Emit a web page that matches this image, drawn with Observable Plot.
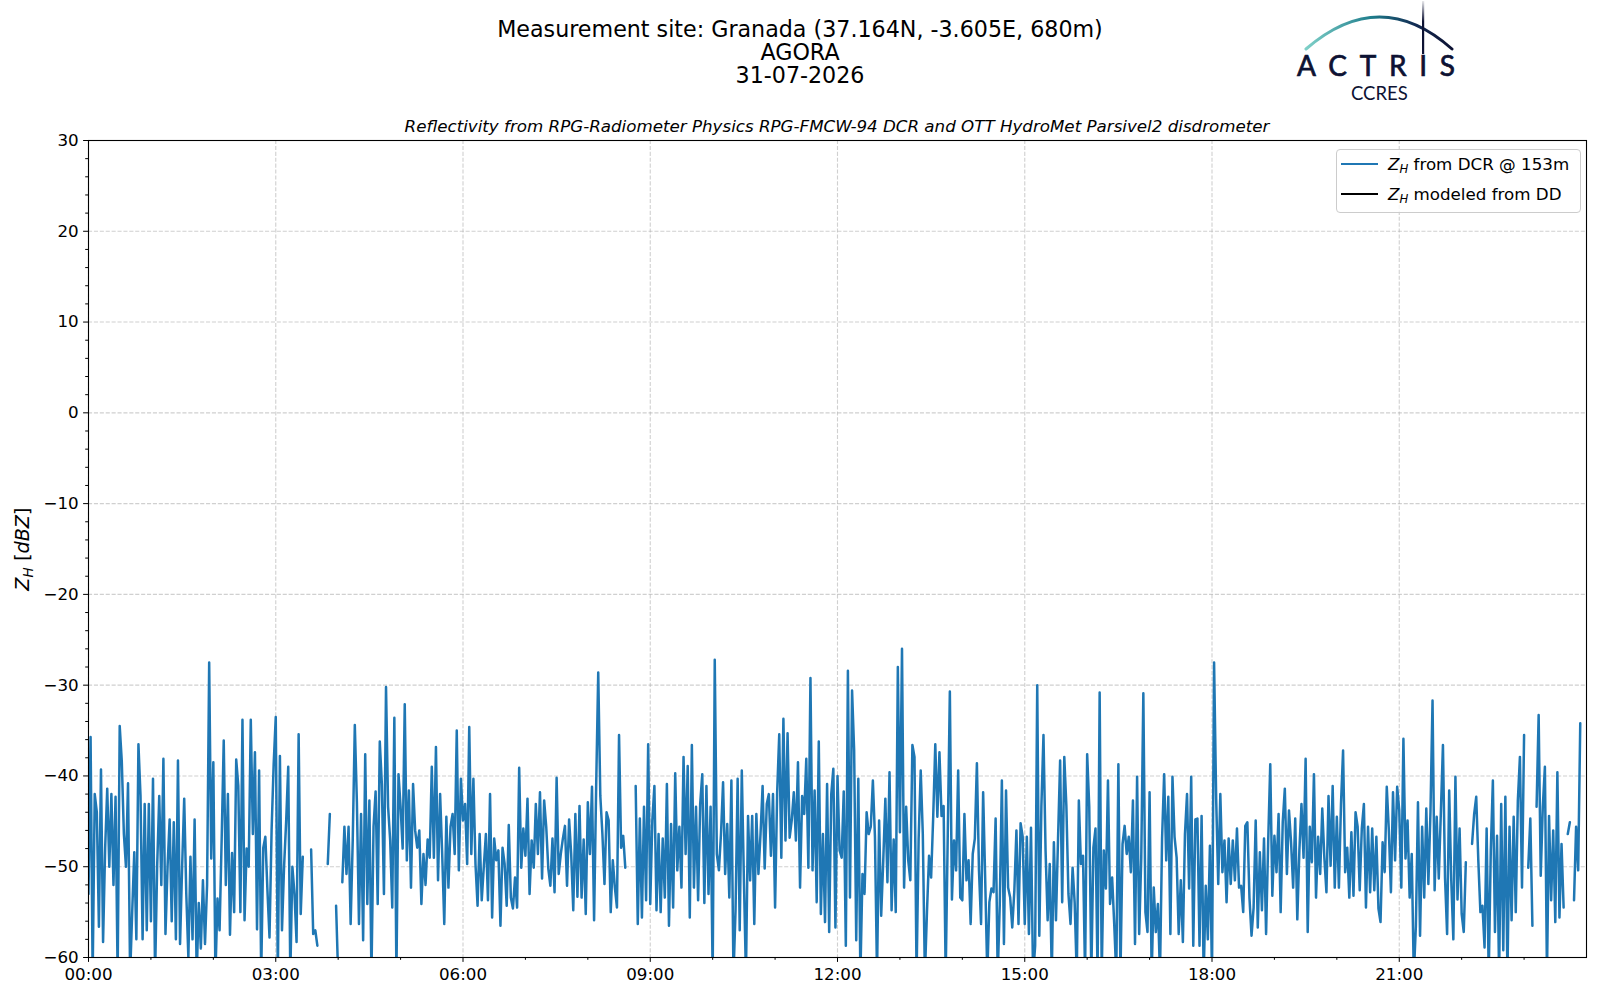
<!DOCTYPE html>
<html>
<head>
<meta charset="utf-8">
<script src="https://cdn.jsdelivr.net/npm/d3@7"></script>
<script src="https://cdn.jsdelivr.net/npm/@observablehq/plot@0.6"></script>
<style>
html,body{margin:0;padding:0;background:#fff;}
#fig{position:relative;width:1600px;height:1000px;background:#fff;font-family:"DejaVu Sans",sans-serif;color:#000;overflow:hidden;}
.abs{position:absolute;white-space:nowrap;line-height:1;}
.ctr{transform:translate(-50%,-50%);}
.sub{font-size:70%;position:relative;top:0.28em;font-style:italic;}
</style>
</head>
<body>
<div id="fig">
  <div id="chart" style="position:absolute;left:0;top:120px;"></div>
</div>
<script>
// ---------------- data ----------------
const titleLines = ["Measurement site: Granada (37.164N, -3.605E, 680m)", "AGORA", "31-07-2026"];
const subtitle = "Reflectivity from RPG-Radiometer Physics RPG-FMCW-94 DCR and OTT HydroMet Parsivel2 disdrometer";
const yLabelParts = {sym: "Z", sub: "H", unit: "dBZ"};
const legendLabels = [" from DCR @ 153m", " modeled from DD"];
const legendColors = ["#1f77b4", "#000000"];
const logoText = ["ACTRIS", "CCRES"];

const dayStart = "2026-07-31T00:00:00Z";
const stepMinutes = 2;
const yMajor = [-60, -50, -40, -30, -20, -10, 0, 10, 20, 30];
const yMinor = [-58,-56,-54,-52,-48,-46,-44,-42,-38,-36,-34,-32,-28,-26,-24,-22,-18,-16,-14,-12,-8,-6,-4,-2,2,4,6,8,12,14,16,18,22,24,26,28];
const xMajorHours = [0, 3, 6, 9, 12, 15, 18, 21];
const xMinorHours = [1, 2, 4, 5, 7, 8, 10, 11, 13, 14, 16, 17, 19, 20, 22, 23];

// Z_H from DCR @ 153m, one value every 2 minutes from 00:00 (null = no data)
const zhDCR = [
// 00h
-53.0,-35.7,-62,-42.0,-44.0,-56.6,-39.3,-58.3,-48.0,-41.4,-50.0,-42.0,-52.0,-42.3,-62,-34.5,-38.4,-46.4,-50.0,-40.8,-62,-55.0,-48.4,-58.0,-36.5,-42.2,-58.0,-43.1,-57.0,-43.1,
// 01h
-56.0,-40.3,-62,-50.0,-42.2,-52.0,-38.1,-57.4,-50.0,-44.8,-56.0,-45.1,-58.0,-38.3,-58.5,-50.0,-42.5,-53.0,-60.0,-48.9,-58.0,-44.8,-62,-54.0,-59.0,-51.5,-58.5,-52.0,-27.5,-49.1,
// 02h
-38.5,-62,-53.5,-57.0,-47.0,-36.1,-52.0,-42.0,-57.5,-48.5,-55.0,-38.2,-41.1,-55.0,-33.8,-55.9,-48.0,-50.0,-33.8,-46.4,-37.4,-56.9,-39.4,-62,-47.9,-46.7,-52.6,-57.8,-46.0,-38.7,
// 03h
-33.5,-62,-37.8,-57.0,-50.0,-45.0,-39.0,-62,-50.0,-53.0,-58.3,-35.4,-55.2,-48.9,null,null,null,-48.1,-57.4,-57.0,-58.7,null,null,null,null,-49.7,-44.2,null,null,-54.3,
// 04h
-62,null,-51.7,-45.6,-50.8,-45.6,-56.3,-47.1,-34.4,-42.9,-56.3,-44.2,-58.1,-37.6,-54.1,-42.7,-62,-45.6,-41.7,-54.1,-36.2,-40.9,-53.0,-30.2,-43.4,-47.1,-54.5,-33.6,-62,-39.8,
// 05h
-43.4,-48.0,-32.1,-49.3,-41.6,-52.3,-40.9,-46.0,-47.9,-46.0,-54.1,-48.6,-52.0,-47.0,-49.0,-39.0,-49.0,-36.8,-51.5,-42.0,-48.6,-56.3,-44.5,-52.3,-45.6,-44.2,-48.6,-35.0,-50.4,-40.3,
// 06h
-44.9,-43.1,-49.7,-34.6,-48.6,-40.3,-49.7,-54.3,-46.4,-53.7,-50.0,-46.4,-53.7,-42.0,-55.6,-46.9,-49.3,-48.2,-56.5,-47.9,-49.7,-54.3,-45.4,-53.4,-54.6,-51.2,-54.5,-39.1,-50.1,-45.8,
// 07h
-48.8,-42.5,-53.0,-47.1,-50.1,-43.1,-48.6,-41.8,-51.3,-42.7,-45.6,-50.2,-52.1,-46.9,-52.8,-40.2,-50.8,-48.6,-46.9,-45.5,-52.1,-44.8,-48.6,-54.8,-44.2,-53.3,-43.3,-53.4,-47.0,-55.2,
// 08h
-42.9,-48.6,-41.2,-55.9,-41.2,-28.6,-42.2,-46.4,-51.9,-44.0,-44.9,-55.0,-49.3,-52.3,-54.5,-35.5,-47.9,-46.6,-50.1,null,null,null,null,-41.1,-56.3,-44.7,-55.6,-43.4,-53.7,-36.5,
// 09h
-54.1,-44.9,-41.1,-54.8,-46.4,-55.0,-46.9,-53.4,-40.9,-56.5,-45.3,-54.5,-39.7,-50.4,-45.6,-52.3,-37.9,-48.6,-38.9,-55.6,-36.6,-52.3,-43.4,-53.7,-43.1,-39.8,-54.0,-41.1,-53.0,-43.4,
// 10h
-62,-27.2,-48.6,-50.4,-46.4,-40.7,-50.8,-45.3,-53.4,-40.5,-62,-54.8,-40.3,-57.0,-39.4,-51.3,-62,-44.4,-51.5,-44.4,-56.3,-44.2,-50.8,-46.4,-41.1,-50.2,-43.1,-42.0,-48.8,-42.0,
// 11h
-54.5,-41.8,-35.4,-49.0,-33.7,-47.1,-35.3,-46.8,-44.9,-41.8,-47.1,-38.5,-52.3,-42.2,-44.2,-38.1,-50.1,-29.2,-50.4,-41.6,-53.9,-36.2,-55.2,-46.4,-56.1,-40.9,-57.2,-42.0,-39.2,-56.7,
// 12h
-40.0,-48.2,-49.0,-41.7,-58.7,-28.4,-53.4,-30.6,-37.2,-58.1,-40.3,-62,-50.8,-53.0,-44.0,-46.4,-45.6,-40.5,-46.7,-62,-44.9,-55.4,-49.3,-42.5,-51.7,-39.6,-54.8,-47.0,-55.0,-28.0,
// 13h
-46.2,-26.0,-52.3,-43.4,-49.3,-51.5,-36.6,-37.9,-62,-46.9,-39.4,-46.4,-62,-55.0,-48.8,-51.2,-44.5,-36.5,-44.5,-37.4,-44.4,-43.3,-62,-46.4,-30.7,-53.6,-47.1,-50.4,-39.4,-53.4,
// 14h
-53.7,-44.2,-51.5,-49.3,-56.3,-48.6,-46.9,-38.6,-50.4,-56.3,-41.8,-51.5,-62,-53.9,-52.4,-52.8,-44.7,-62,-54.1,-40.5,-58.5,-41.6,-52.3,-53.4,-56.7,-52.6,-46.0,-56.3,-45.2,-46.7,
// 15h
-56.3,-46.7,-57.4,-45.7,-62,-58.7,-30.0,-57.6,-43.3,-35.5,-48.2,-55.9,-49.7,-62,-47.3,-55.9,-46.9,-38.3,-53.9,-37.9,-43.3,-53.0,-56.3,-50.1,-54.0,-62,-42.7,-49.7,-48.8,-62,
// 16h
-37.6,-43.4,-62,-47.9,-45.8,-62,-30.8,-62,-48.2,-52.4,-40.5,-54.1,-51.2,-56.3,-62,-38.7,-62,-47.5,-45.5,-48.6,-46.7,-50.6,-42.7,-58.5,-40.1,-57.4,-49.0,-30.9,-55.0,-57.2,
// 17h
-41.8,-62,-52.3,-57.2,-54.1,-62,-46.9,-39.8,-49.3,-42.3,-57.4,-40.1,-46.7,-49.0,-57.4,-51.5,-58.3,-46.4,-42.0,-52.4,-40.1,-58.7,-44.8,-44.7,-58.7,-44.4,-62,-52.1,-58.0,-47.7,
// 18h
-62,-27.5,-42.5,-51.9,-42.0,-50.6,-47.1,-53.9,-46.9,-51.9,-47.1,-51.5,-45.8,-52.3,-52.1,-55.0,-45.5,-45.1,-53.4,-57.6,-54.5,-44.9,-56.7,-48.4,-54.8,-46.9,-57.4,-47.3,-38.7,-53.2,
// 19h
-46.6,-50.6,-44.2,-55.0,-45.1,-41.4,-50.8,-43.8,-47.3,-52.3,-44.7,-55.8,-48.2,-43.1,-49.0,-38.1,-57.2,-45.6,-49.5,-39.8,-53.4,-46.7,-50.8,-43.6,-49.0,-52.8,-42.2,-49.9,-41.1,-52.3,
// 20h
-44.5,-52.3,-43.1,-37.2,-50.6,-47.9,-53.4,-46.2,-53.2,-44.0,-45.6,-52.6,-45.8,-43.1,-54.5,-45.6,-52.8,-45.8,-52.6,-46.7,-54.6,-56.1,-47.3,-50.6,-41.2,-46.0,-52.8,-41.8,-49.3,-41.2,
// 21h
-43.8,-52.3,-35.9,-49.1,-44.9,-53.4,-48.6,-62,-56.5,-42.9,-57.6,-45.6,-53.4,-43.6,-51.9,-44.0,-31.7,-52.6,-44.5,-51.3,-44.0,-36.6,-51.2,-57.4,-41.6,-51.5,-58.0,-40.1,-53.6,-45.8,
// 22h
-55.2,-57.2,-49.5,null,null,-47.5,-44.2,-42.3,-49.3,-55.0,-54.3,-58.9,-45.8,-62,-48.2,-40.5,-57.2,-46.6,-62,-43.1,-59.2,-42.3,-62,-45.6,-55.9,-44.5,-55.0,-42.7,-37.9,-52.3,
// 23h
-35.5,null,-50.1,-44.7,-56.5,null,-43.4,-33.3,-51.0,-43.4,-39.0,-62,-44.4,-53.7,-46.0,-56.1,-39.6,-55.6,-47.5,-54.5,null,-46.4,-45.1,null,-53.7,-45.6,-50.4,-34.2
];

// ---------------- chart ----------------
const t0 = Date.parse(dayStart);
const hourDate = h => new Date(t0 + h * 3600000);
const rows = zhDCR.map((v, i) => ({time: new Date(t0 + i * stepMinutes * 60000), zh: v}));
const fmtY = d => (d < 0 ? "\u2212" + Math.abs(d) : String(d));
const gridStyle = {stroke: "#b0b0b0", strokeOpacity: 0.6, strokeDasharray: "4.1,1.8", strokeWidth: 1.1};

const chart = Plot.plot({
  width: 1600, height: 880,
  marginTop: 20, marginRight: 14, marginBottom: 43, marginLeft: 88,
  style: {fontFamily: '"DejaVu Sans", sans-serif', fontSize: "16.7px", color: "#000", background: "transparent", overflow: "visible"},
  x: {type: "utc", domain: [hourDate(0), hourDate(24)]},
  y: {domain: [-60, 30]},
  marks: [
    Plot.gridY({ticks: yMajor, ...gridStyle}),
    Plot.gridX({ticks: xMajorHours.map(hourDate), ...gridStyle}),
    Plot.line(rows, {x: "time", y: "zh", stroke: legendColors[0], strokeWidth: 2.5, clip: true}),
    Plot.frame({stroke: "#000", strokeWidth: 1.1}),
    Plot.axisY({ticks: yMajor, tickSize: 4.9, tickPadding: 4.9, tickFormat: fmtY, label: null}),
    Plot.axisY({ticks: yMinor, tickSize: 2.8, tickFormat: () => "", label: null}),
    Plot.axisX({ticks: xMajorHours.map(hourDate), tickSize: 4.9, tickPadding: 6, tickFormat: d3.utcFormat("%H:%M"), label: null}),
    Plot.axisX({ticks: xMinorHours.map(hourDate), tickSize: 2.8, tickFormat: () => "", label: null})
  ]
});
document.getElementById("chart").appendChild(chart);

// ---------------- overlays (titles, legend, labels, logo) ----------------
const fig = document.getElementById("fig");
function add(html, css, cls) {
  const d = document.createElement("div");
  d.className = "abs " + (cls || "");
  d.innerHTML = html;
  Object.assign(d.style, css);
  fig.appendChild(d);
  return d;
}
// three-line title as a single centered block
add(titleLines.join("<br>"), {left: "800px", top: "18px", fontSize: "22.2px", lineHeight: "23px", textAlign: "center", transform: "translateX(-50%)"});
add(subtitle, {left: "837px", top: "126px", fontSize: "16.7px", fontStyle: "italic"}, "ctr");

// y label
add(`<i>${yLabelParts.sym}</i><span class="sub">${yLabelParts.sub}</span> [<i>${yLabelParts.unit}</i>]`,
  {left: "22.5px", top: "548.5px", fontSize: "19.3px", transform: "translate(-50%,-50%) rotate(-90deg)"});

// legend
add("", {left: "1336px", top: "149px", width: "243px", height: "62px", border: "1px solid #cccccc", borderRadius: "4px", background: "rgba(255,255,255,0.8)"});
const legY = [164, 194];
legendLabels.forEach((lab, i) => {
  add("", {left: "1341px", top: (legY[i] - 1.05) + "px", width: "37px", height: "2.1px", background: legendColors[i]});
  add(`<i>Z</i><span class="sub">H</span>${lab}`, {left: "1388px", top: legY[i] + "px", fontSize: "16.7px", transform: "translateY(-50%)"});
});

// logo
add(`<svg width="200" height="110" xmlns="http://www.w3.org/2000/svg">
  <defs>
    <linearGradient id="arcg" gradientUnits="userSpaceOnUse" x1="26" x2="172" y1="0" y2="0">
      <stop offset="0" stop-color="#7fd0c8"/>
      <stop offset="0.45" stop-color="#1f7d8c"/>
      <stop offset="0.75" stop-color="#122a52"/>
      <stop offset="1" stop-color="#0d1233"/>
    </linearGradient>
    <linearGradient id="vg" gradientUnits="userSpaceOnUse" x1="0" x2="0" y1="0" y2="54">
      <stop offset="0" stop-color="#0d1233" stop-opacity="0.05"/>
      <stop offset="0.4" stop-color="#0d1233" stop-opacity="1"/>
      <stop offset="1" stop-color="#0d1233" stop-opacity="1"/>
    </linearGradient>
  </defs>
  <path d="M 26 49 Q 100 -15 172 49" fill="none" stroke="url(#arcg)" stroke-width="3" stroke-linecap="round"/>
  <rect x="142" y="1" width="2.2" height="53" fill="url(#vg)"/>
  <text x="17" y="76" font-family="Lato, 'Open Sans', sans-serif" font-size="28" fill="#0d1233" stroke="#0d1233" stroke-width="0.7" textLength="158" lengthAdjust="spacing">${logoText[0]}</text>
  <text x="71" y="100" font-family="Lato, 'Open Sans', sans-serif" font-size="18.5" fill="#0d1233">${logoText[1]}</text>
</svg>`, {left: "1280px", top: "0px", lineHeight: "0"});
</script>
</body>
</html>
